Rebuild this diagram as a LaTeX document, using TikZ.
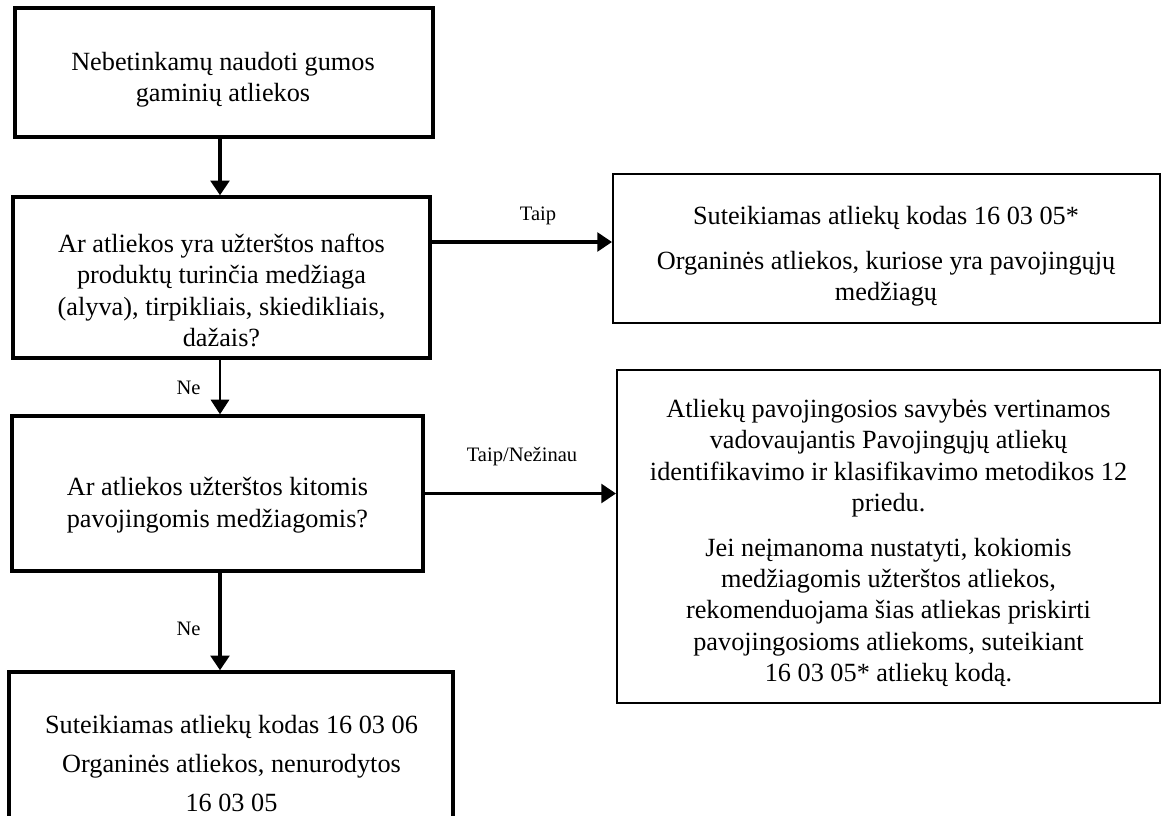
\documentclass[tikz,border=0pt]{standalone}
\usepackage{fontspec}
\setmainfont{Liberation Serif}
\usetikzlibrary{arrows.meta}
\begin{document}
\begin{tikzpicture}[x=0.75pt,y=-0.75pt,
  thickbox/.style={draw=black,line width=2.6pt,inner sep=0pt,rectangle},
  thinbox/.style={draw=black,line width=1.5pt,inner sep=0pt,rectangle},
  boxtext/.style={inner sep=0pt,align=center,font=\fontsize{19.7pt}{23.6pt}\selectfont},
  lbl/.style={inner sep=0pt,font=\fontsize{15.4pt}{18pt}\selectfont},
  arrowhead/.style={-{Triangle[length=11pt,width=14pt]}},
  thickarrow/.style={arrowhead,line width=2.6pt},
  thinarrow/.style={arrowhead,line width=1pt}]
\path[use as bounding box] (0,0) rectangle (1165,815);
\clip (0,0) rectangle (1165,815);
\fill[white] (0,0) rectangle (1165,815);

% boxes
\node[thickbox,minimum width=313.5pt,minimum height=96.75pt] (A) at (224,72.5) {};
\node[thickbox,minimum width=312.75pt,minimum height=120.75pt] (B) at (221.5,277.5) {};
\node[thinbox,minimum width=410.25pt,minimum height=111.75pt] (C) at (886.5,248.5) {};
\node[thickbox,minimum width=308.25pt,minimum height=116.25pt] (D) at (217.5,493.5) {};
\node[thinbox,minimum width=407.25pt,minimum height=249.75pt] (F) at (888.5,536.5) {};
\node[thickbox,minimum width=333pt,minimum height=156pt] (E) at (231,776) {};

% texts
\node[boxtext] (At) at (223,79.5) {Nebetinkamų naudoti gumos\\gaminių atliekos};
\node[boxtext] (Bt) at (221.5,290.5) {Ar atliekos yra užterštos naftos\\produktų turinčia medžiaga\\(alyva), tirpikliais, skiedikliais,\\dažais?};
\node[boxtext] (Ct) at (886,256.5) {Suteikiamas atliekų kodas 16 03 05*\\[9.75pt]Organinės atliekos, kuriose yra pavojingųjų\\medžiagų};
\node[boxtext] (Dt) at (217.5,505) {Ar atliekos užterštos kitomis\\pavojingomis medžiagomis?};
\node[boxtext] (Ft) at (888.5,543) {Atliekų pavojingosios savybės vertinamos\\vadovaujantis Pavojingųjų atliekų\\identifikavimo ir klasifikavimo metodikos 12\\priedu.\\[9.75pt]Jei neįmanoma nustatyti, kokiomis\\medžiagomis užterštos atliekos,\\rekomenduojama šias atliekas priskirti\\pavojingosioms atliekoms, suteikiant\\16 03 05* atliekų kodą.};
\node[boxtext,font=\fontsize{19.7pt}{29pt}\selectfont] (Et) at (231.5,763.5) {Suteikiamas atliekų kodas 16 03 06\\Organinės atliekos, nenurodytos\\16 03 05};

% connectors
\coordinate (vx) at (220,0);
\coordinate (ty) at (0,242);
\draw[thickarrow] (vx |- A.south) -- (vx |- B.north);
\draw[thinarrow] (vx |- B.south) -- (vx |- D.north);
\draw[thickarrow] (vx |- D.south) -- (vx |- E.north);
\draw[thickarrow] (B.east |- ty) -- (C.west |- ty);
\draw[thickarrow] (D.east) -- (F.west |- D.east);

% labels
\node[lbl] (l1) at (538,216) {Taip};
\node[lbl] (l2) at (522,457) {Taip/Nežinau};
\node[lbl] (l3) at (188.5,388) {Ne};
\node[lbl] (l4) at (188.5,629) {Ne};
\end{tikzpicture}
\end{document}
